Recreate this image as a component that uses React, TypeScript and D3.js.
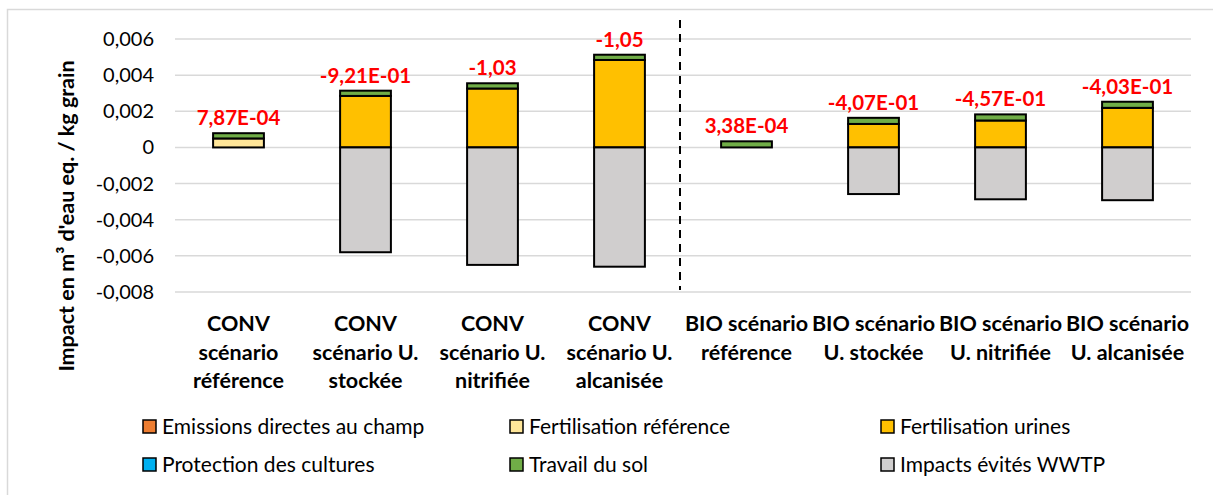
import * as d3 from "d3";

const categories = [
  ["CONV", "scénario", "référence"],
  ["CONV", "scénario U.", "stockée"],
  ["CONV", "scénario U.", "nitrifiée"],
  ["CONV", "scénario U.", "alcanisée"],
  ["BIO scénario", "référence"],
  ["BIO scénario", "U. stockée"],
  ["BIO scénario", "U. nitrifiée"],
  ["BIO scénario", "U. alcanisée"],
];

const seriesNames = [
  "Emissions directes au champ",
  "Fertilisation référence",
  "Fertilisation urines",
  "Protection des cultures",
  "Travail du sol",
  "Impacts évités WWTP",
];
const seriesColors = ["#ED7D31", "#FFE699", "#FFC000", "#00B0F0", "#70AD47", "#D0CECE"];

const emissions = [0, 0, 0, 0, 0, 0, 0, 0];
const fertReference = [0.000497, 0, 0, 0, 0, 0, 0, 0];
const fertUrines = [0, 0.00285, 0.00326, 0.00484, 0, 0.0013, 0.00149, 0.00219];
const protection = [0, 0, 0, 0, 0, 0, 0, 0];
const travailSol = [0.00029, 0.00029, 0.00029, 0.00029, 0.000338, 0.000338, 0.000338, 0.000338];
const wwtp = [0, -0.0058, -0.0065, -0.0066, 0, -0.00258, -0.00287, -0.00292];

const barLabels = ["7,87E-04", "-9,21E-01", "-1,03", "-1,05", "3,38E-04", "-4,07E-01", "-4,57E-01", "-4,03E-01"];
const yTicks = [0.006, 0.004, 0.002, 0, -0.002, -0.004, -0.006, -0.008];

const W = 1213;
const H = 495;
const FONT = "Lato, 'Open Sans', sans-serif";

export default function App() {
  const cols = [emissions, fertReference, fertUrines, protection, travailSol, wwtp];
  const rows = categories.map((_, i) => {
    const r: Record<string, number> = { idx: i };
    seriesNames.forEach((s, k) => (r[s] = cols[k][i]));
    return r;
  });
  const stacked = d3.stack<Record<string, number>>().keys(seriesNames).offset(d3.stackOffsetDiverging)(rows);

  const x = d3
    .scaleBand<number>()
    .domain(categories.map((_, i) => i))
    .range([175, 1191])
    .paddingInner(0.6)
    .paddingOuter(0.3);
  const y = d3.scaleLinear().domain([-0.008, 0.006]).range([292, 39]);
  const fmt = (v: number) => (v === 0 ? "0" : d3.format(".3f")(v).replace(".", ",").replace("−", "-"));

  const tops = categories.map((_, i) => d3.sum(cols.map((c) => c[i]).filter((v) => v > 0)));
  const sepX = ((x(3) as number) + x.bandwidth() + (x(4) as number)) / 2 - 3;

  const legendCols = [143, 510, 881];
  const legendRows = [427, 465];

  return (
    <svg width={W} height={H} style={{ position: "absolute", left: 0, top: 0, fontFamily: FONT }}>
      <rect x={0} y={0} width={W} height={H} fill="#fff" />
      <rect x={7.5} y={9.5} width={W + 20} height={H + 20} fill="none" stroke="#d9d9d9" strokeWidth={1.5} />

      {yTicks.map((t) => (
        <g key={t}>
          <line x1={175} x2={1191} y1={y(t)} y2={y(t)} stroke="#d9d9d9" strokeWidth={1.5} />
          <text x={154} y={y(t)} dy="0.35em" textAnchor="end" fontSize={20} fill="#000">
            {fmt(t)}
          </text>
        </g>
      ))}

      {stacked.map((s, k) =>
        s.map((d, i) =>
          d[1] - d[0] === 0 ? null : (
            <rect
              key={`${k}-${i}`}
              x={x(i)}
              width={x.bandwidth()}
              y={y(Math.max(d[0], d[1]))}
              height={Math.abs(y(d[0]) - y(d[1]))}
              fill={seriesColors[k]}
              stroke="#000"
              strokeWidth={2}
            />
          )
        )
      )}

      <line x1={sepX} x2={sepX} y1={20} y2={290} stroke="#000" strokeWidth={2} strokeDasharray="8,6" />

      {barLabels.map((l, i) => (
        <text
          key={l}
          x={(x(i) as number) + x.bandwidth() / 2}
          y={y(tops[i]) - 8}
          textAnchor="middle"
          fontSize={20.5}
          fontWeight="bold"
          fill="#FF0000"
        >
          {l}
        </text>
      ))}

      {categories.map((lines, i) => (
        <text key={i} textAnchor="middle" fontSize={21.5} fontWeight="bold" fill="#000">
          {lines.map((ln, j) => (
            <tspan key={j} x={(x(i) as number) + x.bandwidth() / 2} y={331 + j * 28.7}>
              {ln}
            </tspan>
          ))}
        </text>
      ))}

      <text
        transform="translate(74,216) rotate(-90)"
        textAnchor="middle"
        fontSize={21.5}
        fontWeight="bold"
        fill="#000"
      >
        Impact en m³ d'eau eq. / kg grain
      </text>

      {seriesNames.map((s, k) => {
        const lx = legendCols[k % 3];
        const ly = legendRows[Math.floor(k / 3)];
        return (
          <g key={s}>
            <rect x={lx} y={ly - 7} width={13} height={13} fill={seriesColors[k]} stroke="#000" strokeWidth={1.5} />
            <text x={lx + 19} y={ly} dy="0.35em" fontSize={21} fill="#000">
              {s}
            </text>
          </g>
        );
      })}
    </svg>
  );
}
